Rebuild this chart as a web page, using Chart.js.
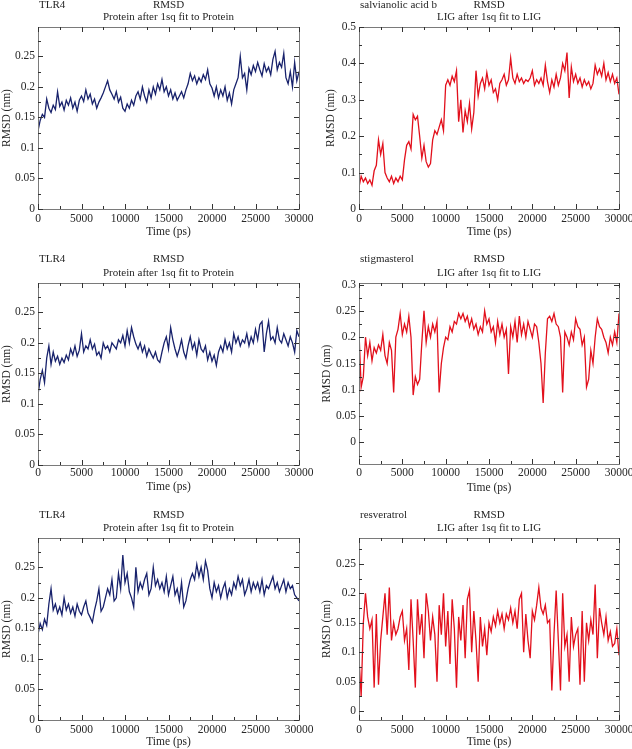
<!DOCTYPE html>
<html>
<head>
<meta charset="utf-8">
<title>RMSD</title>
<script src="https://cdn.jsdelivr.net/npm/chart.js@4.4.1/dist/chart.umd.min.js"></script>
<style>
  body { margin: 0; background: #fff; }
  #wrap { position: relative; width: 632px; height: 749px; overflow: hidden; }
  .panel { position: absolute; width: 316px; height: 250px; }
</style>
</head>
<body>
<div id="wrap">
  <div class="panel" style="left:0;top:0"><canvas id="c1" width="316" height="250"></canvas></div>
  <div class="panel" style="left:316px;top:0"><canvas id="c2" width="316" height="250"></canvas></div>
  <div class="panel" style="left:0;top:250px"><canvas id="c3" width="316" height="250"></canvas></div>
  <div class="panel" style="left:316px;top:250px"><canvas id="c4" width="316" height="250"></canvas></div>
  <div class="panel" style="left:0;top:500px"><canvas id="c5" width="316" height="250"></canvas></div>
  <div class="panel" style="left:316px;top:500px"><canvas id="c6" width="316" height="250"></canvas></div>
</div>
<script>
// sample times in ps, one every 250 ps from 0 to 30000
const timePs = [];
for (let t = 0; t <= 30000; t += 250) timePs.push(t);

// values (nm)
const tlr4Run1 = [
  0.128, 0.145, 0.155, 0.150, 0.180, 0.165, 0.158, 0.170, 0.163, 0.192, 0.168, 0.175, 0.162, 0.178, 0.170, 0.182,
  0.165, 0.175, 0.160, 0.178, 0.185, 0.176, 0.195, 0.180, 0.188, 0.172, 0.180, 0.165, 0.175, 0.182, 0.190, 0.200,
  0.210, 0.195, 0.188, 0.180, 0.192, 0.175, 0.183, 0.165, 0.160, 0.172, 0.165, 0.178, 0.170, 0.185, 0.192, 0.180,
  0.200, 0.185, 0.175, 0.195, 0.182, 0.200, 0.188, 0.205, 0.195, 0.212, 0.192, 0.200, 0.185, 0.195, 0.180, 0.190,
  0.178, 0.185, 0.192, 0.182, 0.195, 0.205, 0.222, 0.210, 0.218, 0.205, 0.215, 0.208, 0.220, 0.212, 0.228, 0.205,
  0.198, 0.185, 0.200, 0.182, 0.195, 0.185, 0.200, 0.178, 0.190, 0.172, 0.195, 0.205, 0.215, 0.250, 0.215, 0.222,
  0.195, 0.230, 0.220, 0.235, 0.225, 0.240, 0.228, 0.218, 0.238, 0.225, 0.232, 0.220, 0.245, 0.258, 0.228, 0.240,
  0.232, 0.255, 0.215, 0.205, 0.225, 0.200, 0.240, 0.210, 0.225
];
const salvianolicB = [
  0.060, 0.090, 0.075, 0.085, 0.070, 0.080, 0.065, 0.105, 0.120, 0.190, 0.150, 0.180, 0.100, 0.085, 0.075, 0.090,
  0.070, 0.085, 0.075, 0.090, 0.080, 0.135, 0.175, 0.185, 0.165, 0.260, 0.245, 0.255, 0.200, 0.140, 0.175, 0.130,
  0.115, 0.125, 0.190, 0.215, 0.205, 0.225, 0.245, 0.215, 0.340, 0.355, 0.340, 0.365, 0.350, 0.380, 0.240, 0.300,
  0.210, 0.270, 0.240, 0.290, 0.220, 0.265, 0.380, 0.310, 0.345, 0.360, 0.330, 0.375, 0.340, 0.355, 0.320, 0.330,
  0.300, 0.345, 0.355, 0.370, 0.340, 0.355, 0.415, 0.360, 0.345, 0.370, 0.350, 0.360, 0.345, 0.355, 0.350, 0.360,
  0.380, 0.340, 0.355, 0.345, 0.360, 0.340, 0.395, 0.350, 0.320, 0.355, 0.335, 0.370, 0.340, 0.360, 0.400, 0.380,
  0.430, 0.305, 0.390, 0.350, 0.370, 0.345, 0.360, 0.335, 0.355, 0.340, 0.350, 0.330, 0.345, 0.395, 0.370, 0.385,
  0.365, 0.400, 0.355, 0.375, 0.350, 0.370, 0.345, 0.360, 0.315
];
const tlr4Run2 = [
  0.115, 0.140, 0.155, 0.135, 0.175, 0.195, 0.165, 0.185, 0.170, 0.178, 0.165, 0.175, 0.168, 0.180, 0.172, 0.190,
  0.180, 0.195, 0.178, 0.188, 0.215, 0.185, 0.195, 0.190, 0.205, 0.190, 0.198, 0.180, 0.185, 0.175, 0.200, 0.190,
  0.195, 0.185, 0.200, 0.195, 0.190, 0.205, 0.200, 0.212, 0.195, 0.220, 0.200, 0.225, 0.210, 0.198, 0.190, 0.200,
  0.185, 0.195, 0.178, 0.190, 0.182, 0.175, 0.185, 0.172, 0.168, 0.185, 0.200, 0.210, 0.190, 0.225, 0.205, 0.190,
  0.178, 0.190, 0.205, 0.185, 0.175, 0.195, 0.210, 0.190, 0.200, 0.180, 0.205, 0.190, 0.185, 0.195, 0.172, 0.185,
  0.170, 0.180, 0.163, 0.185, 0.195, 0.185, 0.205, 0.190, 0.200, 0.185, 0.215, 0.200, 0.210, 0.195, 0.205, 0.200,
  0.215, 0.195, 0.210, 0.200, 0.222, 0.205, 0.230, 0.235, 0.185, 0.215, 0.235, 0.205, 0.210, 0.200, 0.225, 0.205,
  0.200, 0.215, 0.205, 0.195, 0.210, 0.200, 0.185, 0.220, 0.210
];
const stigmasterol = [
  0.210, 0.105, 0.125, 0.200, 0.165, 0.190, 0.155, 0.180, 0.170, 0.185, 0.175, 0.205, 0.165, 0.150, 0.190, 0.175,
  0.095, 0.200, 0.215, 0.245, 0.205, 0.225, 0.210, 0.240, 0.200, 0.090, 0.125, 0.110, 0.120, 0.190, 0.250, 0.190,
  0.220, 0.200, 0.225, 0.210, 0.230, 0.095, 0.150, 0.180, 0.200, 0.195, 0.220, 0.210, 0.230, 0.225, 0.245, 0.235,
  0.245, 0.230, 0.240, 0.220, 0.235, 0.215, 0.225, 0.205, 0.220, 0.210, 0.250, 0.225, 0.235, 0.210, 0.220, 0.190,
  0.230, 0.205, 0.225, 0.200, 0.215, 0.130, 0.220, 0.200, 0.230, 0.190, 0.240, 0.205, 0.225, 0.200, 0.230, 0.215,
  0.200, 0.225, 0.220, 0.190, 0.150, 0.075, 0.170, 0.235, 0.240, 0.230, 0.245, 0.225, 0.220, 0.200, 0.095, 0.210,
  0.200, 0.185, 0.210, 0.195, 0.235, 0.220, 0.215, 0.185, 0.200, 0.105, 0.120, 0.175, 0.150, 0.200, 0.235, 0.220,
  0.215, 0.200, 0.190, 0.170, 0.200, 0.185, 0.210, 0.190, 0.245
];
const tlr4Run3 = [
  0.140, 0.158, 0.148, 0.165, 0.155, 0.190, 0.215, 0.180, 0.190, 0.175, 0.185, 0.172, 0.200, 0.180, 0.190, 0.175,
  0.185, 0.170, 0.190, 0.178, 0.172, 0.185, 0.195, 0.175, 0.168, 0.160, 0.180, 0.195, 0.215, 0.178, 0.185, 0.200,
  0.215, 0.205, 0.230, 0.195, 0.200, 0.240, 0.215, 0.270, 0.225, 0.240, 0.210, 0.200, 0.185, 0.250, 0.210, 0.225,
  0.215, 0.230, 0.240, 0.205, 0.215, 0.250, 0.220, 0.230, 0.215, 0.225, 0.210, 0.235, 0.205, 0.220, 0.235, 0.205,
  0.215, 0.195, 0.225, 0.185, 0.195, 0.215, 0.230, 0.240, 0.230, 0.255, 0.235, 0.250, 0.230, 0.260, 0.245, 0.215,
  0.200, 0.225, 0.210, 0.220, 0.200, 0.215, 0.225, 0.200, 0.215, 0.205, 0.225, 0.215, 0.235, 0.220, 0.230, 0.205,
  0.215, 0.230, 0.210, 0.225, 0.215, 0.225, 0.210, 0.230, 0.205, 0.220, 0.215, 0.225, 0.235, 0.215, 0.225, 0.210,
  0.220, 0.230, 0.210, 0.225, 0.215, 0.220, 0.205, 0.200, 0.195
];
const resveratrol = [
  0.090, 0.025, 0.150, 0.200, 0.160, 0.140, 0.155, 0.040, 0.165, 0.045, 0.120, 0.160, 0.200, 0.130, 0.210, 0.120,
  0.150, 0.130, 0.140, 0.160, 0.170, 0.120, 0.140, 0.070, 0.190, 0.120, 0.040, 0.190, 0.130, 0.165, 0.090, 0.200,
  0.170, 0.120, 0.160, 0.130, 0.050, 0.180, 0.130, 0.200, 0.110, 0.170, 0.080, 0.190, 0.140, 0.040, 0.160, 0.120,
  0.180, 0.090, 0.190, 0.205, 0.100, 0.170, 0.120, 0.050, 0.160, 0.110, 0.140, 0.095, 0.150, 0.135, 0.160, 0.145,
  0.170, 0.150, 0.165, 0.140, 0.165, 0.155, 0.175, 0.150, 0.170, 0.140, 0.190, 0.200, 0.100, 0.165, 0.120, 0.090,
  0.170, 0.155, 0.180, 0.210, 0.175, 0.165, 0.180, 0.150, 0.155, 0.035, 0.130, 0.205, 0.120, 0.035, 0.200, 0.110,
  0.130, 0.050, 0.160, 0.110, 0.130, 0.140, 0.045, 0.170, 0.050, 0.150, 0.120, 0.155, 0.130, 0.215, 0.090, 0.175,
  0.150, 0.130, 0.160, 0.120, 0.135, 0.110, 0.115, 0.140, 0.095
];

const xTicks = [0, 5000, 10000, 15000, 20000, 25000, 30000];

const BLUE = '#18226c';
const RED = '#e2101c';
const TEXT = '#262626';
const FONT = 'Liberation Serif';

// the plot box + titles for each panel
const panels = [
  { id: 'c1', name: 'TLR4', sub: 'Protein after 1sq fit to Protein', data: tlr4Run1, color: BLUE,
    box: [38, 299, 27, 209], yMin: 0, yMax: 0.298, yStep: 0.05, yTitle: 0, xTitleGap: 11.5, xTickPad: 3, head: [5, 17] },
  { id: 'c2', name: 'salvianolic acid b', sub: 'LIG after 1sq fit to LIG', data: salvianolicB, color: RED,
    box: [43, 303, 27, 209], yMin: 0, yMax: 0.5, yStep: 0.1, yTitle: 8.5, xTitleGap: 11.5, xTickPad: 3, head: [5, 17] },
  { id: 'c3', name: 'TLR4', sub: 'Protein after 1sq fit to Protein', data: tlr4Run2, color: BLUE,
    box: [38, 299, 33, 215], yMin: 0, yMax: 0.298, yStep: 0.05, yTitle: 0, xTitleGap: 6, xTickPad: 1, head: [9, 23] },
  { id: 'c4', name: 'stigmasterol', sub: 'LIG after 1sq fit to LIG', data: stigmasterol, color: RED,
    box: [43, 303, 33, 214], yMin: -0.041, yMax: 0.303, yStep: 0.05, yTitle: 4, xTitleGap: 5.5, xTickPad: 2, head: [9, 23] },
  { id: 'c5', name: 'TLR4', sub: 'Protein after 1sq fit to Protein', data: tlr4Run3, color: BLUE,
    box: [38, 299, 38, 220], yMin: 0, yMax: 0.298, yStep: 0.05, yTitle: 0, xTitleGap: 1.5, xTickPad: 3, head: [15, 28] },
  { id: 'c6', name: 'resveratrol', sub: 'LIG after 1sq fit to LIG', data: resveratrol, color: RED,
    box: [43, 303, 38, 220], yMin: -0.015, yMax: 0.294, yStep: 0.05, yTitle: 4, xTitleGap: 1, xTickPad: 3, head: [15, 28] }
];

// draws the grey box and the inward tick marks on all four sides
const framePlugin = {
  id: 'frame',
  afterDatasetsDraw(chart, args, opts) {
    const { ctx, chartArea: a, scales: { x, y } } = chart;
    ctx.save();
    ctx.lineWidth = 1;
    ctx.strokeStyle = '#7a7a7a';
    ctx.strokeRect(Math.round(a.left) + 0.5, Math.round(a.top) + 0.5, Math.round(a.right - a.left), Math.round(a.bottom - a.top));
    ctx.strokeStyle = '#333';
    ctx.beginPath();
    for (let k = 0; k <= 12; k++) {
      const px = Math.round(x.getPixelForValue(k * 2500)) + 0.5;
      const len = k % 2 === 0 ? 5 : 3;
      ctx.moveTo(px, a.bottom); ctx.lineTo(px, a.bottom - len);
      ctx.moveTo(px, a.top); ctx.lineTo(px, a.top + len);
    }
    const minor = opts.step / 2;
    for (let k = Math.ceil(y.min / minor - 1e-6); k * minor <= y.max + 1e-9; k++) {
      const py = Math.round(y.getPixelForValue(k * minor)) + 0.5;
      const len = k % 2 === 0 ? 5 : 3;
      ctx.moveTo(a.left, py); ctx.lineTo(a.left + len, py);
      ctx.moveTo(a.right, py); ctx.lineTo(a.right - len, py);
    }
    ctx.stroke();
    ctx.restore();
  }
};

// "TLR4      RMSD" line and the fit subtitle above each box
const headerPlugin = {
  id: 'header',
  afterDraw(chart, args, opts) {
    const { ctx, chartArea: a } = chart;
    const cx = (a.left + a.right) / 2;
    ctx.save();
    ctx.fillStyle = TEXT;
    ctx.font = '11px "' + FONT + '"';
    ctx.textBaseline = 'middle';
    ctx.textAlign = 'left';
    ctx.fillText(opts.name, a.left + 1, opts.rows[0]);
    ctx.textAlign = 'center';
    ctx.fillText('RMSD', cx, opts.rows[0]);
    ctx.fillText(opts.sub, cx, opts.rows[1]);
    ctx.restore();
  }
};

panels.forEach((p) => {
  const [left, right, top, bottom] = p.box;
  new Chart(document.getElementById(p.id), {
    type: 'line',
    data: {
      datasets: [{
        data: timePs.map((t, i) => ({ x: t, y: p.data[i] })),
        borderColor: p.color,
        borderWidth: 1.3,
        pointRadius: 0,
        tension: 0
      }]
    },
    options: {
      responsive: false,
      animation: false,
      events: [],
      layout: { padding: { left: 0, top: top, right: 316 - right, bottom: 0 } },
      plugins: {
        legend: { display: false },
        tooltip: { enabled: false },
        frame: { step: p.yStep },
        header: { name: p.name, sub: p.sub, rows: p.head }
      },
      scales: {
        x: {
          type: 'linear',
          min: 0,
          max: 30000,
          grid: { display: false, drawTicks: false },
          border: { display: false },
          afterBuildTicks: (s) => { s.ticks = xTicks.map((v) => ({ value: v })); },
          afterFit: (s) => { s.height = 250 - bottom; s.paddingLeft = 0; s.paddingRight = 0; },
          ticks: {
            padding: p.xTickPad,
            maxRotation: 0,
            autoSkip: false,
            color: TEXT,
            font: { family: FONT, size: 11.5 },
            callback: (v) => String(v)
          },
          title: {
            display: true,
            text: 'Time (ps)',
            color: TEXT,
            font: { family: FONT, size: 11.5 },
            padding: { top: 0, bottom: p.xTitleGap }
          }
        },
        y: {
          min: p.yMin,
          max: p.yMax,
          grid: { display: false, drawTicks: false },
          border: { display: false },
          afterFit: (s) => { s.width = left; s.paddingTop = 0; s.paddingBottom = 0; },
          ticks: {
            stepSize: p.yStep,
            includeBounds: false,
            padding: 3,
            color: TEXT,
            font: { family: FONT, size: 11.5 },
            callback: (v) => String(+v.toFixed(3))
          },
          title: {
            display: true,
            text: 'RMSD (nm)',
            color: TEXT,
            font: { family: FONT, size: 11.5 },
            padding: { top: p.yTitle, bottom: 0 }
          }
        }
      }
    },
    plugins: [framePlugin, headerPlugin]
  });
});
</script>
</body>
</html>
